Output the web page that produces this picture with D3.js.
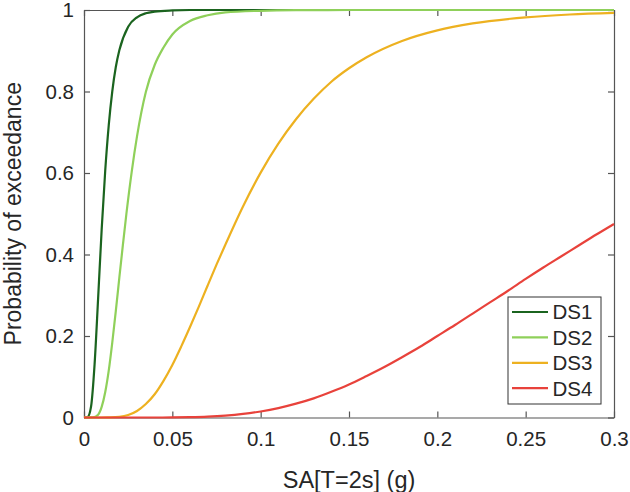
<!DOCTYPE html>
<html>
<head>
<meta charset="utf-8">
<script src="https://cdn.jsdelivr.net/npm/d3@7"></script>
<style>
  body { margin: 0; background: #fff; }
  text { font-family: "Liberation Sans", Arial, Helvetica, sans-serif; fill: #262626; }
</style>
</head>
<body>
<div id="chart"></div>
<script>
// values
const seriesNames = ["DS1", "DS2", "DS3", "DS4"];
const seriesColors = ["#1b641f", "#8fd05a", "#edb120", "#e8423b"];

const ds1X = [0, 0.002, 0.004, 0.006, 0.008, 0.010, 0.012, 0.014, 0.016, 0.018, 0.020, 0.025, 0.030, 0.035, 0.040, 0.050, 0.060, 0.080, 0.100, 0.150, 0.200, 0.250, 0.300];
const ds1P = [0, 0.001, 0.027, 0.131, 0.293, 0.461, 0.605, 0.717, 0.800, 0.860, 0.901, 0.959, 0.982, 0.992, 0.996, 0.999, 1, 1, 1, 1, 1, 1, 1];

const ds2X = [0, 0.005, 0.008, 0.010, 0.012, 0.014, 0.016, 0.018, 0.020, 0.022, 0.024, 0.027, 0.030, 0.035, 0.040, 0.045, 0.050, 0.060, 0.070, 0.080, 0.100, 0.120, 0.150, 0.200, 0.250, 0.300];
const ds2P = [0, 0.0002, 0.007, 0.026, 0.062, 0.115, 0.184, 0.261, 0.343, 0.423, 0.500, 0.603, 0.690, 0.799, 0.865, 0.908, 0.940, 0.973, 0.987, 0.994, 0.998, 0.9995, 1, 1, 1, 1];

const ds3X = [0, 0.010, 0.015, 0.020, 0.025, 0.030, 0.035, 0.040, 0.045, 0.050, 0.055, 0.060, 0.065, 0.070, 0.075, 0.080, 0.090, 0.100, 0.110, 0.120, 0.130, 0.140, 0.150, 0.160, 0.180, 0.200, 0.220, 0.250, 0.275, 0.300];
const ds3P = [0, 0, 0.0002, 0.0015, 0.006, 0.016, 0.033, 0.057, 0.090, 0.129, 0.174, 0.222, 0.272, 0.324, 0.375, 0.424, 0.518, 0.601, 0.672, 0.732, 0.782, 0.824, 0.857, 0.884, 0.924, 0.950, 0.967, 0.982, 0.989, 0.993];

const ds4X = [0, 0.040, 0.050, 0.060, 0.070, 0.080, 0.090, 0.100, 0.110, 0.120, 0.130, 0.140, 0.150, 0.160, 0.170, 0.180, 0.190, 0.200, 0.210, 0.220, 0.230, 0.240, 0.250, 0.260, 0.270, 0.280, 0.290, 0.300];
const ds4P = [0, 0, 0.0002, 0.0008, 0.0021, 0.0046, 0.0087, 0.0148, 0.0231, 0.034, 0.047, 0.063, 0.081, 0.102, 0.124, 0.148, 0.173, 0.200, 0.227, 0.255, 0.283, 0.311, 0.340, 0.368, 0.395, 0.422, 0.449, 0.475];

const xTicks = [0, 0.05, 0.1, 0.15, 0.2, 0.25, 0.3];
const yTicks = [0, 0.2, 0.4, 0.6, 0.8, 1];

const allX = [ds1X, ds2X, ds3X, ds4X];
const allP = [ds1P, ds2P, ds3P, ds4P];

// layout
const W = 630, H = 492;
const margin = { top: 10, right: 16, bottom: 74.5, left: 84 };
const width = W - margin.left - margin.right,
      height = H - margin.top - margin.bottom;
const axisColor = "#555";
const tickLen = 6;

const svg = d3.select("#chart").append("svg")
    .attr("width", W)
    .attr("height", H);

svg.append("rect").attr("width", W).attr("height", H).attr("fill", "#fff");

const g = svg.append("g")
    .attr("transform", `translate(${margin.left},${margin.top})`);

const x = d3.scaleLinear().domain([0, 0.3]).range([0, width]);
const y = d3.scaleLinear().domain([0, 1]).range([height, 0]);

// axes, MATLAB style: ticks inside, box on
const fmt = d => d3.format("~g")(d);

const xAxis = g.append("g")
    .attr("transform", `translate(0,${height})`)
    .call(d3.axisBottom(x).tickValues(xTicks).tickFormat(fmt).tickSizeInner(-tickLen).tickSizeOuter(0).tickPadding(14));
const xTop = g.append("g")
    .call(d3.axisTop(x).tickValues(xTicks).tickFormat("").tickSizeInner(-tickLen).tickSizeOuter(0));
const yAxis = g.append("g")
    .call(d3.axisLeft(y).tickValues(yTicks).tickFormat(fmt).tickSizeInner(-tickLen).tickSizeOuter(0).tickPadding(10));
const yRight = g.append("g")
    .attr("transform", `translate(${width},0)`)
    .call(d3.axisRight(y).tickValues(yTicks).tickFormat("").tickSizeInner(-tickLen).tickSizeOuter(0));

[xAxis, xTop, yAxis, yRight].forEach(a => {
    a.selectAll("path").attr("stroke", axisColor).attr("stroke-width", 1.2);
    a.selectAll("line").attr("stroke", axisColor).attr("stroke-width", 1.2);
    a.selectAll("text")
        .style("font-family", "'Liberation Sans', Arial, sans-serif")
        .style("font-size", "20.5px")
        .attr("fill", "#262626");
});

// curves
const line = d3.line()
    .x(d => x(d[0]))
    .y(d => y(d[1]))
    .curve(d3.curveMonotoneX);

seriesNames.forEach(function (name, i) {
    const pts = allX[i].map((v, j) => [v, allP[i][j]]);
    g.append("path")
        .datum(pts)
        .attr("fill", "none")
        .attr("stroke", seriesColors[i])
        .attr("stroke-width", 2.2)
        .attr("d", line);
});

// axis labels
svg.append("text")
    .attr("x", margin.left + width / 2)
    .attr("y", 488)
    .attr("text-anchor", "middle")
    .style("font-size", "23.5px")
    .text("SA[T=2s] (g)");

svg.append("text")
    .attr("transform", `translate(20.5,${margin.top + height / 2}) rotate(-90)`)
    .attr("text-anchor", "middle")
    .style("font-size", "23px")
    .text("Probability of exceedance");

// legend
const legend = svg.append("g").attr("transform", "translate(508,297)");
legend.append("rect")
    .attr("width", 93)
    .attr("height", 107)
    .attr("fill", "#fff")
    .attr("stroke", "#333")
    .attr("stroke-width", 1);

seriesNames.forEach(function (name, i) {
    const ly = 15 + i * 25.4;
    legend.append("line")
        .attr("x1", 4).attr("x2", 40)
        .attr("y1", ly).attr("y2", ly)
        .attr("stroke", seriesColors[i])
        .attr("stroke-width", 2.2);
    legend.append("text")
        .attr("x", 44.5)
        .attr("y", ly)
        .attr("dy", "0.36em")
        .style("font-size", "20.5px")
        .text(name);
});
</script>
</body>
</html>
